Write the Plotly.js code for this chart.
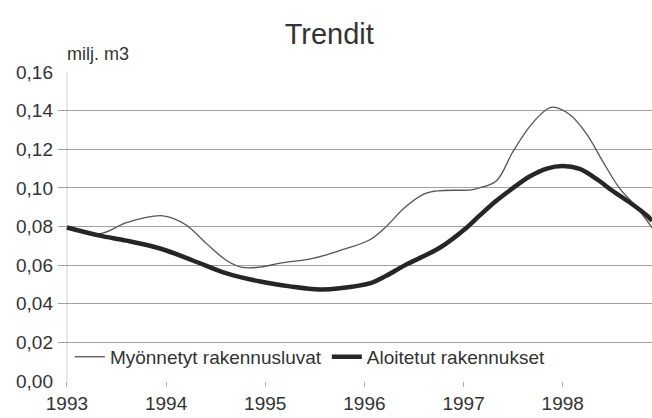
<!DOCTYPE html>
<html>
<head>
<meta charset="utf-8">
<script src="https://cdn.plot.ly/plotly-3.0.1.min.js"></script>
<style>
html,body{margin:0;padding:0;background:#fff;}
#chart{width:652px;height:418px;}
</style>
</head>
<body>
<div id="chart"></div>
<script>
// Series 1: Myönnetyt rakennusluvat (thin line)
const permitYears = [1993.00, 1993.33, 1993.60, 1993.94, 1994.07, 1994.21, 1994.41, 1994.61, 1994.77, 1994.95, 1995.15, 1995.48, 1995.75, 1996.05, 1996.20, 1996.41, 1996.61, 1996.74, 1997.08, 1997.16, 1997.33, 1997.50, 1997.67, 1997.84, 1997.90, 1998.07, 1998.24, 1998.40, 1998.57, 1998.75, 1998.90];
const permitValues = [0.080, 0.0763, 0.082, 0.0856, 0.0842, 0.0805, 0.071, 0.0624, 0.0588, 0.0590, 0.061, 0.0635, 0.0675, 0.073, 0.079, 0.090, 0.097, 0.0985, 0.099, 0.100, 0.1036, 0.119, 0.132, 0.1407, 0.1418, 0.138, 0.128, 0.114, 0.100, 0.0897, 0.0794];

// Series 2: Aloitetut rakennukset (thick line)
const startYears = [1993.00, 1993.33, 1993.60, 1993.94, 1994.27, 1994.61, 1994.95, 1995.25, 1995.55, 1995.75, 1996.07, 1996.22, 1996.41, 1996.76, 1997.03, 1997.16, 1997.33, 1997.50, 1997.67, 1997.84, 1998.00, 1998.17, 1998.34, 1998.50, 1998.68, 1998.85, 1998.90];
const startValues = [0.0795, 0.0753, 0.0727, 0.0686, 0.0624, 0.0557, 0.0515, 0.049, 0.0474, 0.048, 0.0508, 0.0545, 0.060, 0.069, 0.0794, 0.0856, 0.0933, 0.100, 0.106, 0.110, 0.1113, 0.1098, 0.1046, 0.0985, 0.0923, 0.0856, 0.083];

const seriesNames = ['Myönnetyt rakennusluvat', 'Aloitetut rakennukset'];
const tickYears = [1993, 1994, 1995, 1996, 1997, 1998];
const tickLabels = ['1993', '1994', '1995', '1996', '1997', '1998'];
const yTicks = [0, 0.02, 0.04, 0.06, 0.08, 0.10, 0.12, 0.14, 0.16];

const FONT = '"Liberation Sans", Arial, sans-serif';

const traces = [
  {x: permitYears, y: permitValues, name: seriesNames[0], type: 'scatter', mode: 'lines',
   line: {color: '#555555', width: 1.3, shape: 'spline', smoothing: 1}},
  {x: startYears, y: startValues, name: seriesNames[1], type: 'scatter', mode: 'lines',
   line: {color: '#262626', width: 4.5, shape: 'spline', smoothing: 1}}
];

const layout = {
  width: 652, height: 418,
  margin: {l: 58, r: 0, t: 72, b: 37},
  paper_bgcolor: '#fff', plot_bgcolor: '#fff',
  separators: ', ',
  font: {family: FONT, size: 19, color: '#333'},
  title: {text: 'Trendit', font: {family: FONT, size: 29, color: '#333'},
          x: 0.505, xanchor: 'center', yref: 'container', y: 0.92, yanchor: 'middle'},
  showlegend: true,
  legend: {orientation: 'h', x: 0.02, xanchor: 'left', y: 0.078, yanchor: 'middle',
           bgcolor: 'rgba(255,255,255,0)', font: {family: FONT, size: 19, color: '#333'},
           itemwidth: 30, tracegroupgap: 0},
  xaxis: {range: [1992.91, 1998.90], tickmode: 'array', tickvals: tickYears, ticktext: tickLabels,
          showgrid: false, zeroline: false, showline: false,
          ticks: 'outside', ticklen: 5, tickcolor: '#aaa', tickwidth: 1,
          tickfont: {family: FONT, size: 19, color: '#333'}, fixedrange: true},
  yaxis: {range: [0, 0.16], tickmode: 'array', tickvals: yTicks, tickformat: '.2f',
          showgrid: true, gridcolor: '#a0a0a0', gridwidth: 1, zeroline: false, showline: false,
          ticks: '', ticklabelstandoff: 4, tickfont: {family: FONT, size: 19, color: '#333'}, fixedrange: true},
  shapes: [{type: 'line', xref: 'x', yref: 'paper', x0: tickYears[0], x1: tickYears[0], y0: 0, y1: 1,
            line: {color: '#d0d0d0', width: 1}, layer: 'below'}],
  annotations: [{text: 'milj. m3', xref: 'paper', yref: 'paper', x: 0.012, y: 1.02,
                 xanchor: 'left', yanchor: 'bottom', showarrow: false,
                 font: {family: FONT, size: 18, color: '#333'}}]
};

Plotly.newPlot('chart', traces, layout, {displayModeBar: false, staticPlot: true});
</script>
</body>
</html>
